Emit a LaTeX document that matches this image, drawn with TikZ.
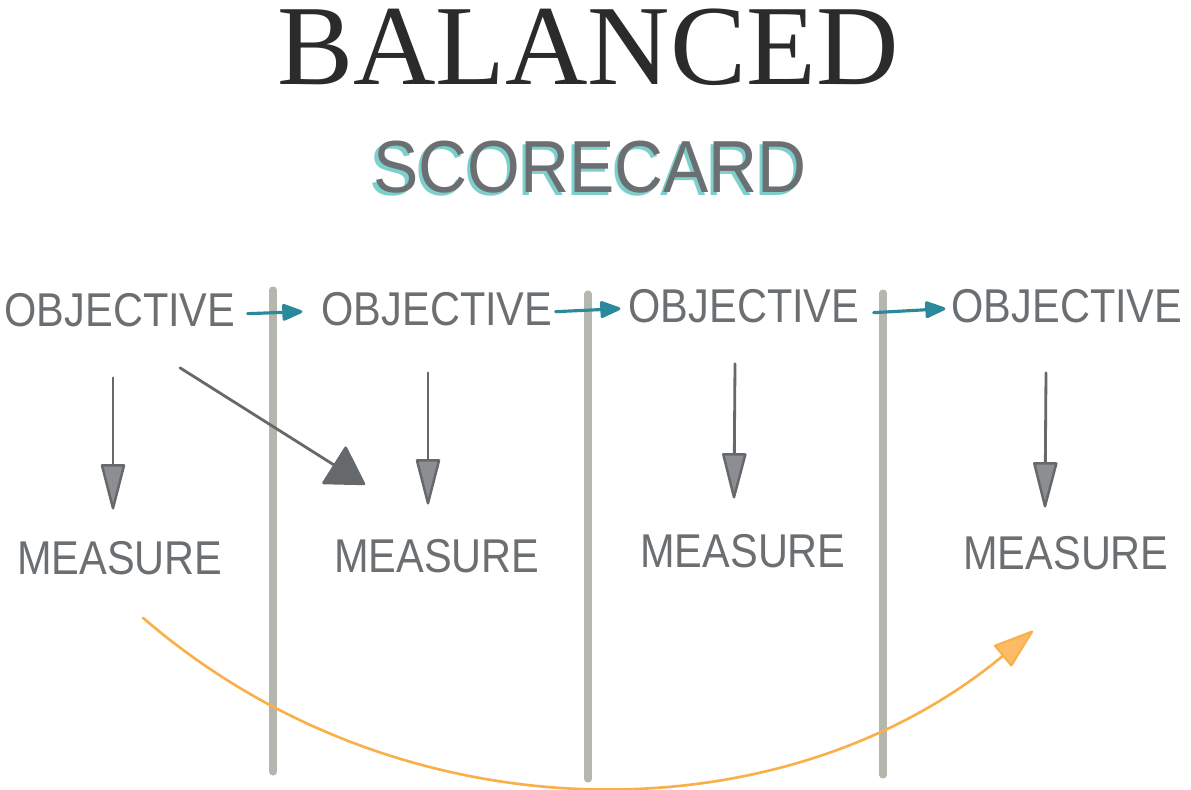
\documentclass[tikz,border=0pt]{standalone}
\usepackage{fontspec}
\setmainfont{Liberation Serif}
\newfontfamily\labfont[FakeStretch=0.875]{Liberation Sans}
\newfontfamily\scorefont[FakeStretch=0.92]{Liberation Sans}
\usetikzlibrary{arrows.meta,calc}
\definecolor{textgray}{HTML}{6B6F72}
\definecolor{arrowgray}{HTML}{66696C}
\definecolor{tealarrow}{HTML}{2A8A9C}
\definecolor{shadowteal}{HTML}{7DCFCB}
\definecolor{sepgray}{HTML}{B3B7AD}
\definecolor{orangearrow}{HTML}{FAB04A}
\definecolor{titlecol}{HTML}{2B2B2B}
\tikzset{
  lab/.style={font=\labfont\fontsize{27}{30}\selectfont, text=textgray, inner sep=0pt, anchor=base},
  sepline/.style={draw=sepgray, line width=4pt, line cap=round},
  tealconn/.style={draw=tealarrow, line width=1.8pt, line cap=round,
    -{Triangle[length=13pt,width=10pt,round]}},
  downconn/.style={draw=arrowgray, line width=1.6pt, line cap=round,
    -{Triangle[length=28pt,width=14pt,line width=1.4pt,fill=arrowgray!75!white,round]}},
  diagconn/.style={draw=arrowgray, line width=1.6pt, line cap=round,
    -{Triangle[length=22pt,width=26pt,round]}},
  orangeconn/.style={draw=orangearrow, line width=1.5pt, line cap=round,
    -{Triangle[length=24pt,width=16pt,line width=1.2pt,fill=orangearrow!85!white,round]}}
}
\begin{document}
\begin{tikzpicture}[x=0.02cm,y=-0.02cm]
\useasboundingbox (0,0) rectangle (1191,790);
% title
\node[font=\fontsize{65}{70}\selectfont, text=titlecol, inner sep=0pt, anchor=base] (title) at (588,85) {BALANCED};
\node[font=\scorefont\fontsize{42}{46}\selectfont, text=textgray, inner sep=0pt, anchor=base] (sub) at (590,193)
  {\makebox[0pt][l]{\hspace{-1.8pt}\raisebox{-1.5pt}{\color{shadowteal}SCORECARD}}SCORECARD};
% separators
\draw[sepline] (273,290) -- (273,772);
\draw[sepline] (588,294) -- (588,779);
\draw[sepline] (883,293) -- (883,775);
% labels
\node[lab] (o1) at (120,327) {OBJECTIVE};
\node[lab] (o2) at (437,326) {OBJECTIVE};
\node[lab] (o3) at (744,323) {OBJECTIVE};
\node[lab] (o4) at (1067,323) {OBJECTIVE};
\node[lab] (m1) at (120,575) {MEASURE};
\node[lab] (m2) at (437,573) {MEASURE};
\node[lab] (m3) at (743,568) {MEASURE};
\node[lab] (m4) at (1066,570) {MEASURE};
% teal connectors
\draw[tealconn] ($(o1.east)+(12,3)$) -- ($(o2.west)+(-19,2)$);
\draw[tealconn] ($(o2.east)+(3,2)$) -- ($(o3.west)+(-8,2)$);
\draw[tealconn] ($(o3.east)+(14,6)$) -- ($(o4.west)+(-6,2)$);
% down connectors
\draw[downconn] ($(o1.south)+(-7,50)$) -- ($(m1.north)+(-7,-32)$);
\draw[downconn] ($(o2.south)+(-9,46)$) -- ($(m2.north)+(-9,-35)$);
\draw[downconn] ($(o3.south)+(-9,40)$) -- ($(m3.north)+(-9,-36)$);
\draw[downconn] ($(o4.south)+(-21,49)$) -- ($(m4.north)+(-21,-29)$);
% diagonal
\draw[diagconn] ($(o1.south)+(60,40)$) -- ($(m2.north)+(-72,-55)$);
% orange curve
\draw[orangeconn] ($(m1.south)+(23,42)$) .. controls (400,840) and (781,840) .. ($(m4.south)+(-33,60)$);
\end{tikzpicture}
\end{document}
